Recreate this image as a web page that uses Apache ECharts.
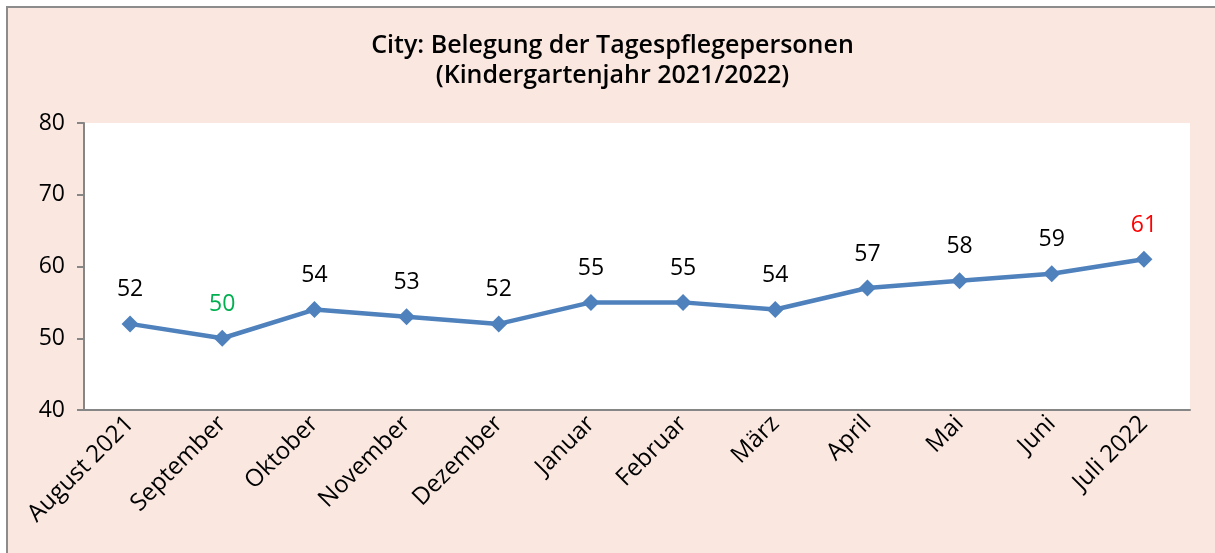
<!DOCTYPE html>
<html>
<head>
<meta charset="utf-8">
<script src="https://cdn.jsdelivr.net/npm/echarts@6/dist/echarts.min.js"></script>
<style>
  html, body { margin: 0; padding: 0; background: #fff; }
  #main {
    position: absolute; left: 6px; top: 6px;
    width: 1209px; height: 547px;
    border-left: 2px solid #8c8c8c; border-top: 2px solid #8c8c8c;
    background: #F9E7E0;
  }
</style>
</head>
<body>
<div id="main"></div>
<script>
// Belegung der Tagespflegepersonen
var months = ["August 2021", "September", "Oktober", "November", "Dezember", "Januar",
  "Februar", "März", "April", "Mai", "Juni", "Juli 2022"];
var belegung = [52, 50, 54, 53, 52, 55, 55, 54, 57, 58, 59, 61];
var labelColors = ["#000", "#00B050", "#000", "#000", "#000", "#000",
  "#000", "#000", "#000", "#000", "#000", "#FF0000"];

var myChart = echarts.init(document.getElementById("main"));
var font = "'Open Sans', 'Noto Sans', sans-serif";

var option = {
  backgroundColor: "#F9E7E0",
  title: {
    text: "City: Belegung der Tagespflegepersonen\n(Kindergartenjahr 2021/2022)",
    left: "center",
    top: 18,
    textStyle: { fontFamily: font, fontSize: 25, fontWeight: 600, color: "#000", lineHeight: 30 }
  },
  grid: { left: 76, right: 27, top: 115, bottom: 145, show: true, backgroundColor: "#fff", borderWidth: 0 },
  xAxis: {
    type: "category",
    data: months,
    boundaryGap: true,
    axisLine: { lineStyle: { color: "#868686", width: 2 } },
    axisTick: { length: 6, lineStyle: { color: "#868686", width: 2 } },
    axisLabel: { rotate: 45, fontFamily: font, fontSize: 24, color: "#000", margin: 10 }
  },
  yAxis: {
    type: "value",
    min: 40, max: 80, interval: 10,
    splitLine: { show: false },
    axisLine: { show: true, lineStyle: { color: "#868686", width: 2 } },
    axisTick: { show: true, length: 7, lineStyle: { color: "#868686", width: 2 } },
    axisLabel: { fontFamily: font, fontSize: 23, color: "#000", margin: 19 }
  },
  series: [{
    type: "line",
    data: belegung.map(function (v, i) {
      return { value: v, label: { color: labelColors[i] } };
    }),
    symbol: "diamond",
    symbolSize: 17,
    itemStyle: { color: "#4F81BD" },
    lineStyle: { color: "#4F81BD", width: 4.5 },
    label: { show: true, position: "top", distance: 14, fontFamily: font, fontSize: 23 },
    animation: false
  }]
};
myChart.setOption(option);
</script>
</body>
</html>
